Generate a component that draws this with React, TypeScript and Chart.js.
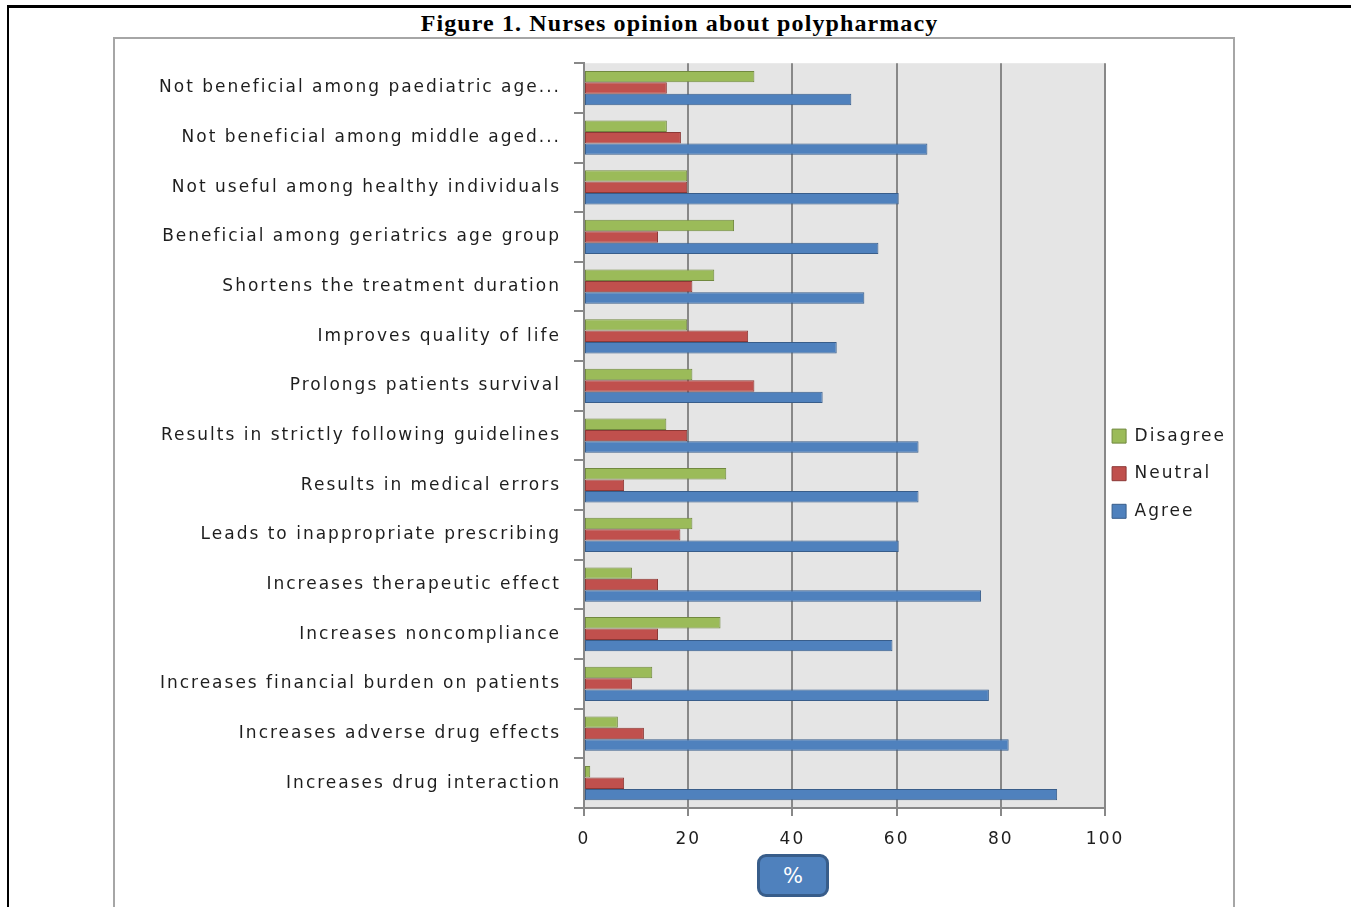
import React, { useEffect, useRef } from 'react';
import { Chart, registerables } from 'chart.js';

Chart.register(...registerables);

const categories = [
  'Not beneficial among paediatric age...',
  'Not beneficial among middle aged...',
  'Not useful among healthy individuals',
  'Beneficial among geriatrics age group',
  'Shortens the treatment duration',
  'Improves quality of life',
  'Prolongs patients survival',
  'Results in strictly following guidelines',
  'Results in medical errors',
  'Leads to inappropriate prescribing',
  'Increases therapeutic effect',
  'Increases noncompliance',
  'Increases financial burden on patients',
  'Increases adverse drug effects',
  'Increases drug interaction',
];

const seriesNames = ['Disagree', 'Neutral', 'Agree'];

const disagreeValues = [32.7, 15.9, 19.8, 28.8, 25.0, 19.8, 20.8, 15.8, 27.3, 20.8, 9.2, 26.2, 13.1, 6.5, 1.2];
const neutralValues = [15.9, 18.6, 19.8, 14.2, 20.8, 31.5, 32.7, 19.8, 7.7, 18.5, 14.2, 14.2, 9.2, 11.5, 7.7];
const agreeValues = [51.3, 65.9, 60.4, 56.5, 53.8, 48.5, 45.8, 64.2, 64.2, 60.4, 76.2, 59.2, 77.7, 81.5, 90.8];

const xTickValues = [0, 20, 40, 60, 80, 100];

const FONT = "'DejaVu Sans', 'Open Sans', sans-serif";
const SPACING = '2px';
const TEXT_COLOR = '#1e1e1e';

const plotBackground = {
  id: 'plotBackground',
  beforeDraw(chart: any) {
    const { ctx, chartArea: a } = chart;
    ctx.save();
    ctx.fillStyle = '#e5e5e5';
    ctx.fillRect(a.left, a.top, a.right - a.left, a.bottom - a.top);
    ctx.restore();
  },
};

const letterSpacing = {
  id: 'letterSpacing',
  beforeUpdate(chart: any) {
    chart.ctx.letterSpacing = SPACING;
  },
  beforeLayout(chart: any) {
    chart.ctx.letterSpacing = SPACING;
  },
  beforeDraw(chart: any) {
    chart.ctx.letterSpacing = SPACING;
  },
};

function BarChart() {
  const canvasRef = useRef<HTMLCanvasElement | null>(null);

  useEffect(() => {
    if (!canvasRef.current) return;
    const values = [disagreeValues, neutralValues, agreeValues];
    const fills = ['#9bbb59', '#c0504d', '#4f81bd'];
    const borders = ['#71893f', '#8c3836', '#385d8a'];
    const chart = new Chart(canvasRef.current, {
      type: 'bar',
      data: {
        labels: categories,
        datasets: seriesNames.map((name, i) => ({
          label: name,
          data: values[i],
          backgroundColor: fills[i],
          borderColor: borders[i],
          borderWidth: 1,
          borderSkipped: false,
          barPercentage: 1,
          categoryPercentage: 0.69,
        })),
      },
      options: {
        indexAxis: 'y',
        animation: false,
        responsive: true,
        maintainAspectRatio: false,
        layout: { padding: { top: 22, right: -3, bottom: 0, left: 0 } },
        plugins: {
          tooltip: { enabled: false },
          legend: {
            position: 'right',
            align: 'center',
            labels: {
              boxWidth: 14,
              boxHeight: 14,
              padding: 7,
              color: TEXT_COLOR,
              font: { family: FONT, size: 17, lineHeight: 1.8 },
              generateLabels: (c: any) =>
                Chart.defaults.plugins.legend.labels
                  .generateLabels(c)
                  .map((l: any) => ({ ...l, text: [l.text] })),
            },
          },
        },
        scales: {
          x: {
            type: 'linear',
            position: 'bottom',
            min: 0,
            max: 100,
            afterBuildTicks: (s: any) => {
              s.ticks = xTickValues.map((v) => ({ value: v }));
            },
            afterFit: (s: any) => {
              s.height = 91;
            },
            ticks: {
              color: TEXT_COLOR,
              font: { family: FONT, size: 17 },
              padding: 13,
            },
            grid: { color: '#888888', lineWidth: 2, tickLength: 8 },
            border: { color: '#888888', width: 2 },
          },
          y: {
            type: 'category',
            afterFit: (s: any) => {
              s.width = 469;
            },
            ticks: {
              color: TEXT_COLOR,
              font: { family: FONT, size: 17 },
              padding: 13,
              autoSkip: false,
            },
            grid: { drawOnChartArea: false, color: '#888888', lineWidth: 2, tickLength: 10, offset: true },
            border: { color: '#888888', width: 2 },
          },
        },
      },
      plugins: [plotBackground, letterSpacing],
    } as any);
    return () => chart.destroy();
  }, []);

  return <canvas ref={canvasRef} />;
}

export default function App() {
  return (
    <div style={{ position: 'fixed', inset: 0, overflow: 'hidden', background: '#ffffff' }}>
      <div
        style={{
          position: 'absolute',
          left: 7,
          top: 5,
          width: 2000,
          height: 2000,
          borderTop: '3px solid #000',
          borderLeft: '2px solid #000',
        }}
      />
      <div
        style={{
          position: 'absolute',
          left: 113,
          top: 37,
          width: 1122,
          height: 1000,
          boxSizing: 'border-box',
          border: '2px solid #a6a6a6',
          background: '#ffffff',
        }}
      >
        <div style={{ position: 'absolute', left: 0, top: 1, width: 1118, height: 859 }}>
          <BarChart />
        </div>
      </div>
      <div
        style={{
          position: 'absolute',
          left: 8,
          top: 11,
          width: 1343,
          textAlign: 'center',
          fontFamily: "'Liberation Serif', 'Times New Roman', serif",
          fontWeight: 'bold',
          fontSize: 24,
          lineHeight: '24px',
          letterSpacing: '1.1px',
          color: '#000',
        }}
      >
        Figure 1. Nurses opinion about polypharmacy
      </div>
      <div
        style={{
          position: 'absolute',
          left: 757,
          top: 854,
          width: 72,
          height: 43,
          boxSizing: 'border-box',
          background: '#4f81bd',
          border: '3px solid #385d8a',
          borderRadius: 9,
          color: '#ffffff',
          fontFamily: FONT,
          fontSize: 21,
          display: 'flex',
          alignItems: 'center',
          justifyContent: 'center',
        }}
      >
        %
      </div>
    </div>
  );
}
